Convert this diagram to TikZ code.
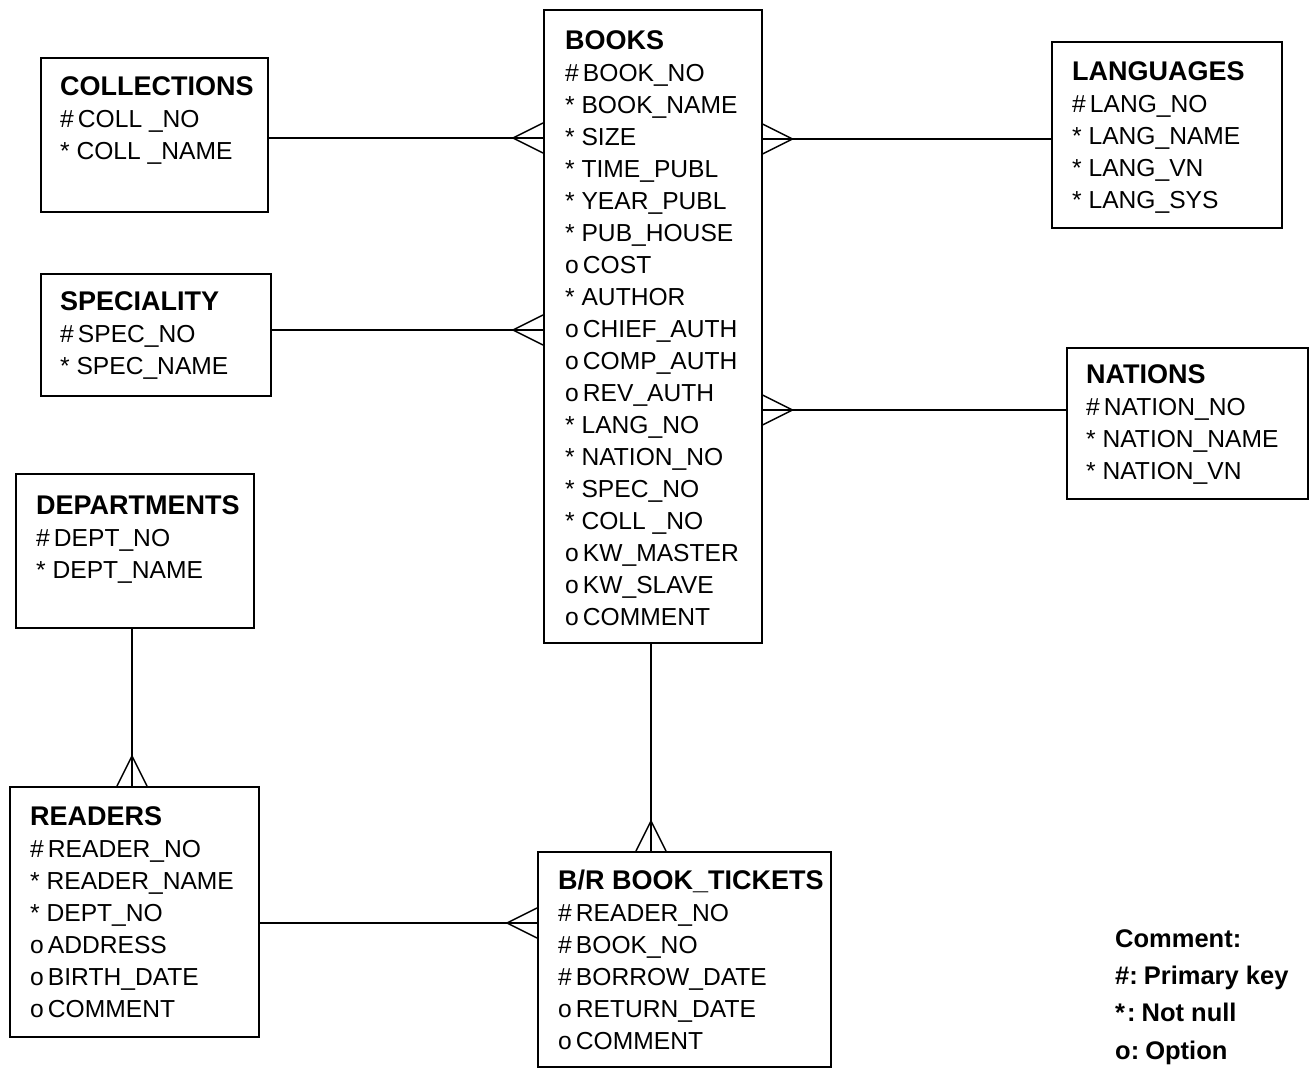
\documentclass[tikz,border=0pt]{standalone}
\usepackage{fontspec}
\setmainfont{Liberation Sans}
\usetikzlibrary{calc}
\newcommand\enttitle[1]{{\fontsize{27}{32}\selectfont\bfseries #1}}
\newcommand\firststrut{\rule{0pt}{20pt}}
\begin{document}
\begin{tikzpicture}[x=1pt,y=-1pt,
  box/.style={draw, line width=1.5pt, inner sep=0pt, anchor=north west},
  attrs/.style={anchor=north west, inner sep=0pt, align=left,
                font=\fontsize{24.6}{32}\selectfont},
  legendtext/.style={anchor=north west, inner sep=0pt, align=left,
                font=\fontsize{25.5}{37.3}\selectfont\bfseries},
  link/.style={line width=1.5pt},
  crowfoot/.pic={\draw[line width=1.5pt] (-30,0) -- (0,15) (-30,0) -- (0,-15);}
]
\fill[white] (0,0) rectangle (1309,1068);
\useasboundingbox (0,0) rectangle (1309,1068);

% entity boxes
\node[box, minimum width=227pt, minimum height=154pt] (coll)    at (40,57)   {};
\node[box, minimum width=230pt, minimum height=122pt] (spec)    at (40,273)  {};
\node[box, minimum width=238pt, minimum height=154pt] (dept)    at (15,473)  {};
\node[box, minimum width=249pt, minimum height=250pt] (readers) at (9,786)   {};
\node[box, minimum width=218pt, minimum height=633pt] (books)   at (543,9)   {};
\node[box, minimum width=230pt, minimum height=186pt] (lang)    at (1051,41) {};
\node[box, minimum width=241pt, minimum height=151pt] (nations) at (1066,347){};
\node[box, minimum width=293pt, minimum height=215pt] (tickets) at (537,851) {};

% entity contents
\node[attrs] (colltext) at (60,75) {\firststrut\enttitle{COLLECTIONS}\\
  \#\,COLL \_NO\\
  * COLL \_NAME};
\node[attrs] (spectext) at (60,290) {\firststrut\enttitle{SPECIALITY}\\
  \#\,SPEC\_NO\\
  * SPEC\_NAME};
\node[attrs] (depttext) at (36,494) {\firststrut\enttitle{DEPARTMENTS}\\
  \#\,DEPT\_NO\\
  * DEPT\_NAME};
\node[attrs] (readerstext) at (30,805) {\firststrut\enttitle{READERS}\\
  \#\,READER\_NO\\
  * READER\_NAME\\
  * DEPT\_NO\\
  o\,ADDRESS\\
  o\,BIRTH\_DATE\\
  o\,COMMENT};
\node[attrs] (bookstext) at (565,29) {\firststrut\enttitle{BOOKS}\\
  \#\,BOOK\_NO\\
  * BOOK\_NAME\\
  * SIZE\\
  * TIME\_PUBL\\
  * YEAR\_PUBL\\
  * PUB\_HOUSE\\
  o\,COST\\
  * AUTHOR\\
  o\,CHIEF\_AUTH\\
  o\,COMP\_AUTH\\
  o\,REV\_AUTH\\
  * LANG\_NO\\
  * NATION\_NO\\
  * SPEC\_NO\\
  * COLL \_NO\\
  o\,KW\_MASTER\\
  o\,KW\_SLAVE\\
  o\,COMMENT};
\node[attrs] (langtext) at (1072,60) {\firststrut\enttitle{LANGUAGES}\\
  \#\,LANG\_NO\\
  * LANG\_NAME\\
  * LANG\_VN\\
  * LANG\_SYS};
\node[attrs] (nationstext) at (1086,363) {\firststrut\enttitle{NATIONS}\\
  \#\,NATION\_NO\\
  * NATION\_NAME\\
  * NATION\_VN};
\node[attrs] (ticketstext) at (558,869) {\firststrut\enttitle{B/R BOOK\_TICKETS}\\
  \#\,READER\_NO\\
  \#\,BOOK\_NO\\
  \#\,BORROW\_DATE\\
  o\,RETURN\_DATE\\
  o\,COMMENT};

% legend
\node[legendtext] (legend) at (1115,928) {\rule{0pt}{19pt}Comment:\\
  \#:\hspace{6pt}Primary key\\
  *\hspace{2pt}:\hspace{6pt}Not null\\
  o:\hspace{6pt}Option};

% connector guide positions
\coordinate (ycoll) at (0,138);
\coordinate (yspec) at (0,330);
\coordinate (ylang) at (0,139);
\coordinate (ynat)  at (0,410);
\coordinate (yrd)   at (0,923);
\coordinate (xdept) at (132,0);
\coordinate (xbook) at (651,0);

% relationships
\draw[link] (coll.east |- ycoll) -- (books.west |- ycoll);
\pic at (books.west |- ycoll) {crowfoot};
\draw[link] (spec.east |- yspec) -- (books.west |- yspec);
\pic at (books.west |- yspec) {crowfoot};
\draw[link] (lang.west |- ylang) -- (books.east |- ylang);
\pic[rotate=180] at (books.east |- ylang) {crowfoot};
\draw[link] (nations.west |- ynat) -- (books.east |- ynat);
\pic[rotate=180] at (books.east |- ynat) {crowfoot};
\draw[link] (readers.east |- yrd) -- (tickets.west |- yrd);
\pic at (tickets.west |- yrd) {crowfoot};
\draw[link] (xdept |- dept.south) -- (xdept |- readers.north);
\pic[rotate=-90] at (xdept |- readers.north) {crowfoot};
\draw[link] (xbook |- books.south) -- (xbook |- tickets.north);
\pic[rotate=-90] at (xbook |- tickets.north) {crowfoot};
\end{tikzpicture}
\end{document}
